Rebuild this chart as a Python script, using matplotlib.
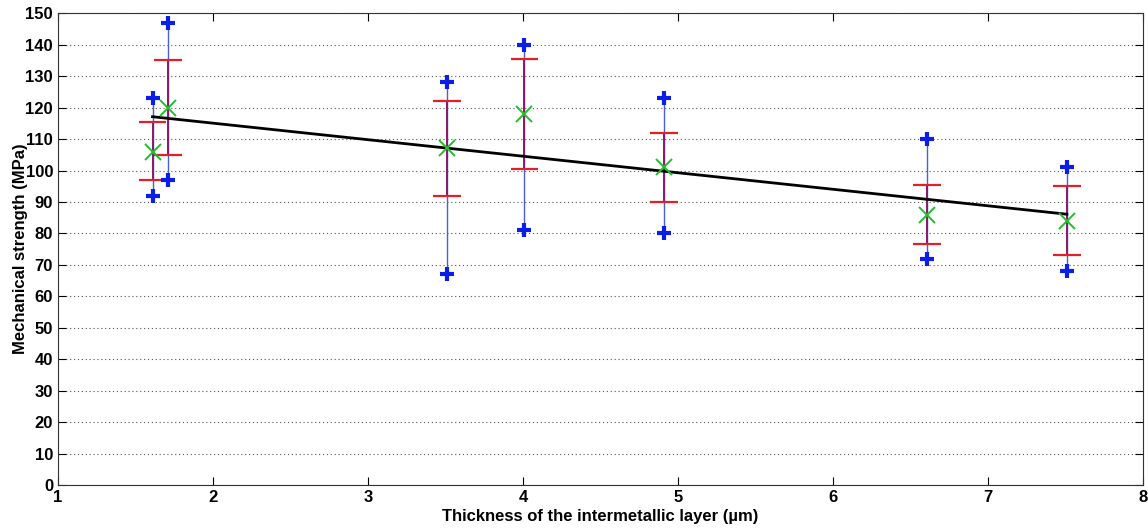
import matplotlib
matplotlib.use("Agg")
import matplotlib.pyplot as plt
import numpy as np

# thickness of the intermetallic layer (um)
thickness = [1.61, 1.71, 3.51, 4.01, 4.91, 6.61, 7.51]
# strength stats (MPa)
strength_max = [123, 147, 128, 140, 123, 110, 101]
strength_min = [92, 97, 67, 81, 80, 72, 68]
sd_upper = [115.5, 135, 122, 135.5, 112, 95.5, 95]
sd_lower = [97, 105, 92, 100.5, 90, 76.5, 73]
strength_mean = [106, 120, 107, 118, 101, 86, 84]

plt.rcParams["font.family"] = ["Liberation Sans Narrow", "Liberation Sans", "DejaVu Sans"]
plt.rcParams["font.weight"] = "bold"

fig = plt.figure(figsize=(11.48, 5.29), dpi=100)
ax = fig.add_axes([0.0505, 0.083, 0.945, 0.892])

x = np.array(thickness)
cap = 0.09

# full range (blue)
ax.vlines(x, strength_min, strength_max, color="#4a5fd0", lw=1, zorder=2)
# standard deviation (red over blue)
ax.vlines(x, sd_lower, sd_upper, color="#8a1a6a", lw=1.4, zorder=3)
ax.hlines(sd_upper, x - cap, x + cap, color="#e0202a", lw=1.6, zorder=4)
ax.hlines(sd_lower, x - cap, x + cap, color="#e0202a", lw=1.6, zorder=4)

ax.plot(x, strength_max, "+", color="#0a1ee8", ms=10, mew=3, zorder=5)
ax.plot(x, strength_min, "+", color="#0a1ee8", ms=10, mew=3, zorder=5)
ax.plot(x, strength_mean, "x", color="#1fbf2a", ms=11, mew=1.4, zorder=6)

# linear trend of the means
k, b = np.polyfit(x, strength_mean, 1)
xt = np.array([x.min(), x.max()])
ax.plot(xt, k * xt + b, color="black", lw=2, zorder=4)

ax.set_xlim(1, 8)
ax.set_ylim(0, 150)
ax.set_xticks(range(1, 9))
ax.set_yticks(range(0, 151, 10))
ax.yaxis.grid(True, linestyle=(0, (1, 2.5)), color="#555555", lw=0.8)
ax.tick_params(direction="in", top=True, right=True, length=6, labelsize=12)
for s in ax.spines.values():
    s.set_color("#333333")

ax.set_xlabel("Thickness of the intermetallic layer (\u00b5m)", fontsize=12, fontweight="bold", labelpad=3)
ax.set_ylabel("Mechanical strength (MPa)", fontsize=12, fontweight="bold")
ax.yaxis.set_label_coords(-0.028, 0.5)

fig.savefig("out.png", dpi=100)
